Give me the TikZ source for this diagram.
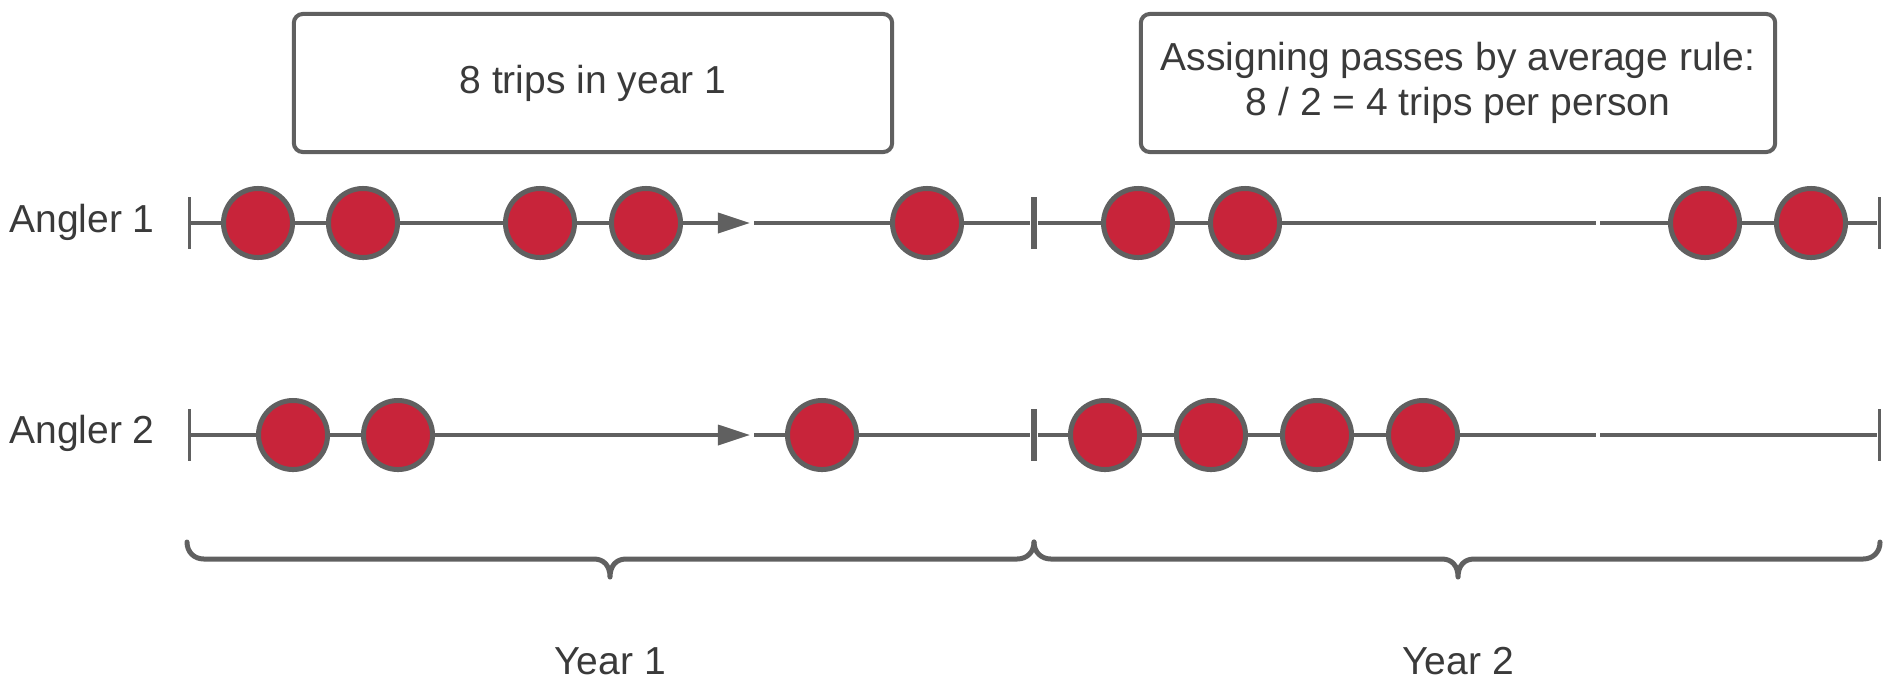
\documentclass[tikz,border=0pt]{standalone}
\usepackage{fontspec}
\setmainfont{Liberation Sans}
\usetikzlibrary{arrows.meta}
\definecolor{tripred}{HTML}{C8243A}
\definecolor{linegray}{HTML}{606060}
\definecolor{textgray}{HTML}{3A3A3A}
\tikzset{
  trip/.style={circle,draw=linegray,line width=0.05cm,fill=tripred,minimum size=0.69cm,inner sep=0pt},
  track/.style={draw=linegray,line width=0.035cm},
  endtick/.style={fill=linegray,minimum width=0.03cm,minimum height=0.52cm,inner sep=0pt},
  midtick/.style={endtick,minimum width=0.065cm},
  notebox/.style={draw=linegray,line width=0.04cm,rounded corners=0.09cm,text=textgray,align=center,inner sep=0pt,minimum height=1.38cm},
  lbl/.style={text=textgray,inner sep=0pt},
  yearbrace/.style={draw=linegray,line width=0.05cm,line cap=round,line join=round},
  passarrow/.style={track,-{Triangle[length=0.32cm,width=0.2cm]}}
}
\begin{document}
\begin{tikzpicture}[x=0.01cm,y=-0.01cm,font=\fontsize{11.1pt}{12.8pt}\selectfont]
\useasboundingbox (0,0) rectangle (1883,681);

% notes on top
\node[notebox,minimum width=5.98cm] (note1) at (593,83) {8 trips in year 1};
\node[notebox,minimum width=6.34cm] (note2) at (1458,83) {Assigning passes by average rule:\\8 / 2 = 4 trips per person};

% angler 1
\node[lbl] (lab1) at (82,222) {Angler 1};
\node[endtick] (a0) at (189,223) {};
\node[trip] (a1) at (258,223) {};
\node[trip] (a2) at (363,223) {};
\node[trip] (a3) at (540,223) {};
\node[trip] (a4) at (646,223) {};
\coordinate (a4tip) at (750,223);
\coordinate (a4gap) at (754,223);
\node[trip] (a5) at (927,223) {};
\node[midtick] (am) at (1034,223) {};
\node[trip] (a6) at (1138,223) {};
\node[trip] (a7) at (1245,223) {};
\coordinate (a7cut) at (1596,223);
\coordinate (a7gap) at (1600,223);
\node[trip] (a8) at (1705,223) {};
\node[trip] (a9) at (1811,223) {};
\node[endtick] (ae) at (1879,223) {};

\foreach \p/\q in {a0/a1,a1/a2,a2/a3,a3/a4,a4gap/a5,a5/am,am/a6,a6/a7,a7/a7cut,a7gap/a8,a8/a9,a9/ae}
  \draw[track] (\p) -- (\q);
\draw[passarrow] (a4) -- (a4tip);

% angler 2
\node[lbl] (lab2) at (82,433) {Angler 2};
\node[endtick] (b0) at (189,435) {};
\node[trip] (b1) at (293,435) {};
\node[trip] (b2) at (398,435) {};
\coordinate (b2tip) at (750,435);
\coordinate (b2gap) at (754,435);
\node[trip] (b3) at (822,435) {};
\node[midtick] (bm) at (1034,435) {};
\node[trip] (b4) at (1105,435) {};
\node[trip] (b5) at (1211,435) {};
\node[trip] (b6) at (1317,435) {};
\node[trip] (b7) at (1423,435) {};
\coordinate (b7cut) at (1596,435);
\coordinate (b7gap) at (1600,435);
\node[endtick] (be) at (1879,435) {};

\foreach \p/\q in {b0/b1,b1/b2,b2gap/b3,b3/bm,bm/b4,b4/b5,b5/b6,b6/b7,b7/b7cut,b7gap/be}
  \draw[track] (\p) -- (\q);
\draw[passarrow] (b2) -- (b2tip);

% braces under each year
\foreach \l/\m/\r in {187/610/1034,1034/1458/1880}
  \draw[yearbrace] (\l,542) .. controls (\l,552) and (\l+7,559) .. (\l+17,559) -- (\m-16,559)
    .. controls (\m-6,559) and (\m,566) .. (\m,577)
    .. controls (\m,566) and (\m+6,559) .. (\m+16,559) -- (\r-17,559)
    .. controls (\r-7,559) and (\r,552) .. (\r,542);

\node[lbl] (year1) at (610,661) {Year 1};
\node[lbl] (year2) at (1458,661) {Year 2};
\end{tikzpicture}
\end{document}
